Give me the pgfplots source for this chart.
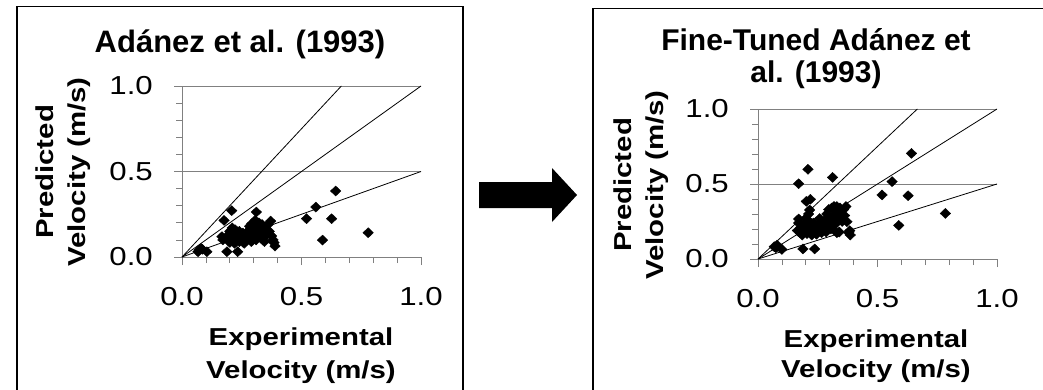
\documentclass[border=0pt]{standalone}
\usepackage{pgfplots}
\pgfplotsset{compat=1.18}
\usepackage{pgfplotstable}
\usepackage{fontspec}
\setmainfont{Liberation Sans}
\newfontfamily\wide{Liberation Sans}[FakeStretch=1.2]

\pgfplotstableread{
x y
0.067 0.031
0.072 0.041
0.080 0.050
0.085 0.045
0.104 0.031
0.167 0.119
0.171 0.100
0.176 0.214
0.208 0.271
0.188 0.031
0.233 0.031
0.311 0.263
0.306 0.214
0.521 0.224
0.560 0.292
0.643 0.386
0.626 0.224
0.588 0.099
0.779 0.142
0.375 0.123
0.385 0.084
0.389 0.064
0.371 0.210
0.381 0.100
0.190 0.110
0.195 0.130
0.200 0.085
0.200 0.150
0.205 0.120
0.210 0.100
0.210 0.170
0.215 0.140
0.220 0.080
0.220 0.120
0.222 0.160
0.228 0.100
0.230 0.135
0.235 0.110
0.240 0.090
0.240 0.150
0.245 0.125
0.250 0.100
0.255 0.140
0.260 0.080
0.262 0.115
0.268 0.130
0.270 0.095
0.275 0.150
0.280 0.110
0.283 0.180
0.288 0.130
0.290 0.090
0.292 0.195
0.295 0.160
0.300 0.120
0.300 0.200
0.305 0.140
0.310 0.100
0.312 0.200
0.318 0.170
0.320 0.130
0.322 0.200
0.328 0.160
0.330 0.110
0.335 0.190
0.340 0.150
0.345 0.090
0.350 0.170
0.355 0.130
0.360 0.190
0.365 0.150
}\leftdata

\pgfplotstableread{
x y
0.068 0.082
0.080 0.093
0.075 0.075
0.100 0.064
0.188 0.067
0.237 0.067
0.170 0.502
0.209 0.598
0.312 0.544
0.202 0.384
0.219 0.398
0.216 0.327
0.170 0.267
0.519 0.427
0.561 0.516
0.642 0.704
0.628 0.422
0.589 0.224
0.784 0.304
0.372 0.249
0.384 0.189
0.386 0.160
0.380 0.175
0.165 0.190
0.170 0.240
0.175 0.175
0.180 0.210
0.185 0.160
0.190 0.230
0.195 0.190
0.200 0.270
0.205 0.170
0.210 0.210
0.212 0.300
0.215 0.250
0.218 0.180
0.220 0.220
0.225 0.160
0.228 0.200
0.232 0.240
0.236 0.180
0.240 0.210
0.245 0.165
0.250 0.230
0.255 0.190
0.258 0.270
0.262 0.210
0.266 0.175
0.270 0.240
0.275 0.200
0.280 0.260
0.285 0.180
0.288 0.300
0.292 0.220
0.296 0.330
0.300 0.250
0.305 0.200
0.308 0.340
0.312 0.280
0.318 0.350
0.322 0.230
0.326 0.300
0.330 0.350
0.335 0.270
0.340 0.180
0.343 0.340
0.348 0.300
0.352 0.250
0.358 0.330
0.362 0.290
0.368 0.350
0.330 0.175
}\rightdata

\pgfplotsset{
  panel/.style={
    anchor=south west,
    width=239pt, scale only axis,
    xmin=0, xmax=1, ymin=0, ymax=1,
    axis x line*=bottom, axis y line*=left,
    axis line style={black!50, line width=0.8pt},
    xtick={0,0.5,1}, ytick={0,0.5,1},
    minor x tick num=4, minor y tick num=4,
    tick align=outside,
    major tick length=8pt, minor tick length=6pt,
    tick style={black!50, line width=0.8pt},
    ymajorgrids, grid style={black!50, line width=0.8pt},
    xticklabels={0.0,0.5,1.0}, yticklabels={0.0,0.5,1.0},
    /pgf/number format/assume math mode=true,
    ticklabel style={font=\wide\fontsize{26}{31}\selectfont},
    xticklabel style={anchor=base, yshift=-40pt},
    yticklabel style={anchor=east, inner sep=0pt, xshift=-21pt},
    clip=false,
  },
  refline/.style={black, line width=0.8pt, no marks},
  pts/.style={only marks, mark=diamond*, mark size=5pt, mark options={fill=black, draw=black, xscale=1.4}},
}

\begin{document}
\begin{tikzpicture}
\useasboundingbox (0,0) rectangle (1043pt,-389pt);
% panel frames
\draw[black, line width=1.1pt] (17pt,-392pt) -- (17pt,-6.5pt) -- (463pt,-6.5pt) -- (463pt,-392pt);
\draw[black, line width=1.1pt] (593pt,-392pt) -- (593pt,-8.5pt) -- (1048pt,-8.5pt);
% arrow
\fill[black] (479pt,-182pt) -- (552pt,-182pt) -- (552pt,-168pt) -- (577pt,-195pt) -- (552pt,-222pt) -- (552pt,-208pt) -- (479pt,-208pt) -- cycle;

% left panel
\begin{axis}[panel, at={(182pt,-257pt)}, height=171pt]
\addplot[refline] coordinates {(0,0) (0.6667,1)};
\addplot[refline] coordinates {(0,0) (1,1)};
\addplot[refline] coordinates {(0,0) (1,0.5)};
\addplot[pts] table[x=x,y=y] {\leftdata};
\end{axis}
\node[anchor=base, font=\bfseries\fontsize{31}{36}\selectfont] at (240pt,-52pt) {Adánez et al. (1993)};
\node[anchor=base, rotate=90, font=\wide\bfseries\fontsize{24.5}{28}\selectfont] at (53pt,-172pt) {Predicted};
\node[anchor=base, rotate=90, font=\wide\bfseries\fontsize{24.5}{28}\selectfont] at (85pt,-172pt) {Velocity (m/s)};
\node[anchor=base, font=\wide\bfseries\fontsize{24.5}{28}\selectfont] at (301pt,-345pt) {Experimental};
\node[anchor=base, font=\wide\bfseries\fontsize{24.5}{28}\selectfont] at (301pt,-378pt) {Velocity (m/s)};

% right panel
\begin{axis}[panel, at={(758pt,-259pt)}, height=150pt]
\addplot[refline] coordinates {(0,0) (0.6667,1)};
\addplot[refline] coordinates {(0,0) (1,1)};
\addplot[refline] coordinates {(0,0) (1,0.5)};
\addplot[pts] table[x=x,y=y] {\rightdata};
\end{axis}
\node[anchor=base, font=\bfseries\fontsize{30}{36}\selectfont] at (816pt,-50pt) {Fine-Tuned Adánez et};
\node[anchor=base, font=\bfseries\fontsize{30}{36}\selectfont] at (816pt,-82pt) {al. (1993)};
\node[anchor=base, rotate=90, font=\wide\bfseries\fontsize{24.5}{28}\selectfont] at (631pt,-185pt) {Predicted};
\node[anchor=base, rotate=90, font=\wide\bfseries\fontsize{24.5}{28}\selectfont] at (663pt,-185pt) {Velocity (m/s)};
\node[anchor=base, font=\wide\bfseries\fontsize{24.5}{28}\selectfont] at (876pt,-347pt) {Experimental};
\node[anchor=base, font=\wide\bfseries\fontsize{24.5}{28}\selectfont] at (876pt,-377pt) {Velocity (m/s)};
\end{tikzpicture}
\end{document}
